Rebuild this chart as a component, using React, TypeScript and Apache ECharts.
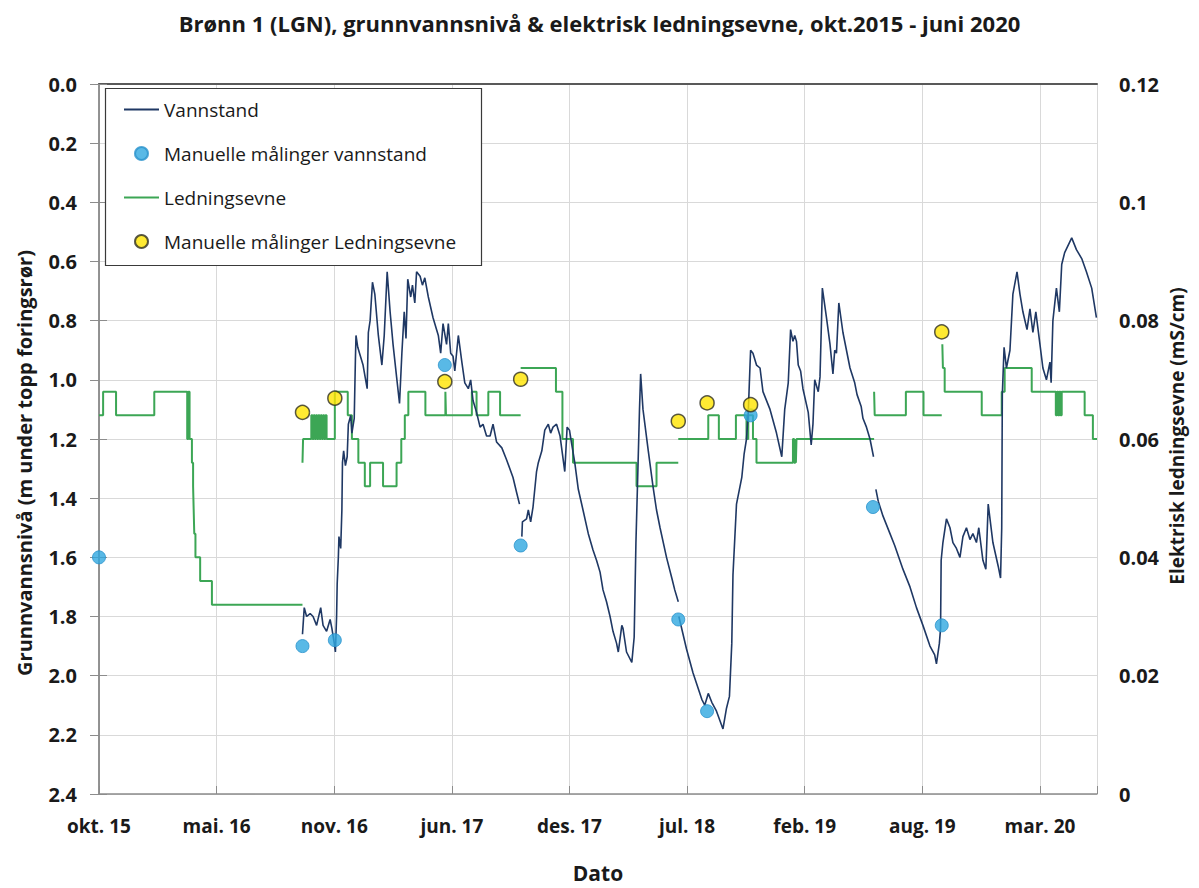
import React, { useEffect, useRef } from 'react';
import * as echarts from 'echarts';

// x values are days counted from the first tick (okt. 15); ticks every 200 days
const TICK_LABELS = ['okt. 15', 'mai. 16', 'nov. 16', 'jun. 17', 'des. 17', 'jul. 18', 'feb. 19', 'aug. 19', 'mar. 20'];
const X_MAX = 1697;

// Vannstand (m under topp foringsrør), continuous logger segments
const vannstandA: [number, number][] = [[346,1.86],[349,1.77],[353,1.80],[359,1.79],[364,1.80],[370,1.83],[377,1.77],[381,1.83],[387,1.85],[393,1.81],[396,1.84],[400,1.89],[402,1.92],[404,1.80],[405,1.69],[407,1.60],[408,1.53],[411,1.57],[413,1.44],[414,1.28],[416,1.24],[419,1.29],[422,1.26],[424,1.15],[428,1.12],[430,1.18],[434,1.13],[436,0.93],[437,0.85],[440,0.89],[443,0.91],[449,0.95],[456,1.03],[458,0.84],[461,0.80],[465,0.67],[469,0.71],[475,0.85],[481,0.95],[485,0.85],[490,0.635],[495,0.77],[500,0.88],[506,0.99],[511,1.08],[515,0.91],[519,0.77],[522,0.86],[525,0.66],[530,0.72],[533,0.68],[537,0.74],[540,0.635],[546,0.65],[550,0.68],[554,0.655],[560,0.72],[568,0.79],[577,0.85],[581,0.91],[585,0.81],[591,0.88],[594,0.81],[598,0.91],[602,0.92],[605,0.97],[611,0.85],[617,0.94],[622,1.01],[628,1.03],[632,1.00],[636,1.07],[642,1.11],[648,1.16],[653,1.15],[659,1.19],[665,1.19],[670,1.15],[676,1.21],[685,1.23],[693,1.27],[704,1.33],[710,1.38],[715,1.42]];
const vannstandB: [number, number][] = [[719,1.53],[720,1.48],[727,1.47],[730,1.44],[734,1.48],[738,1.43],[744,1.31],[747,1.28],[753,1.24],[758,1.17],[764,1.15],[768,1.18],[772,1.16],[778,1.15],[784,1.19],[788,1.25],[792,1.31],[796,1.16],[800,1.17],[804,1.22],[809,1.28],[815,1.37],[823,1.44],[832,1.52],[840,1.575],[846,1.61],[852,1.65],[857,1.71],[863,1.75],[869,1.80],[874,1.85],[880,1.89],[883,1.92],[889,1.83],[891,1.84],[897,1.92],[906,1.955],[910,1.87],[913,1.55],[916,1.33],[919,1.105],[921,0.98],[925,1.10],[934,1.24],[942,1.36],[948,1.44],[954,1.50],[965,1.60],[974,1.67],[979,1.71],[985,1.75]];
const vannstandC: [number, number][] = [[986,1.80],[999,1.91],[1010,1.99],[1025,2.08],[1030,2.10],[1036,2.06],[1042,2.09],[1050,2.12],[1061,2.18],[1067,2.11],[1072,2.07],[1076,1.89],[1078,1.66],[1084,1.42],[1093,1.33],[1097,1.25],[1101,1.20],[1104,1.11],[1107,0.95],[1108,0.90],[1112,0.91],[1118,0.95],[1124,0.96],[1129,1.04],[1141,1.10],[1152,1.18],[1161,1.26],[1166,1.10],[1172,1.01],[1176,0.83],[1180,0.87],[1183,0.85],[1186,0.87],[1189,0.95],[1193,0.97],[1197,1.03],[1206,1.11],[1211,1.22],[1214,1.15],[1217,1.00],[1223,1.04],[1226,0.99],[1230,0.69],[1237,0.79],[1243,0.88],[1248,0.98],[1251,0.90],[1254,0.91],[1258,0.74],[1265,0.84],[1277,0.96],[1285,1.01],[1289,1.05],[1296,1.09],[1299,1.13],[1305,1.16],[1311,1.20],[1317,1.26]];
const vannstandD: [number, number][] = [[1321,1.37],[1325,1.41],[1333,1.46],[1345,1.52],[1353,1.56],[1367,1.64],[1379,1.70],[1390,1.77],[1401,1.83],[1413,1.90],[1421,1.93],[1424,1.96],[1429,1.89],[1431,1.84],[1432,1.61],[1435,1.55],[1441,1.47],[1447,1.50],[1452,1.55],[1458,1.57],[1464,1.60],[1469,1.53],[1475,1.50],[1481,1.54],[1486,1.52],[1492,1.55],[1496,1.50],[1503,1.61],[1508,1.64],[1512,1.42],[1520,1.55],[1529,1.63],[1533,1.67],[1535,1.50],[1536,1.05],[1539,0.89],[1543,0.96],[1549,0.90],[1554,0.71],[1561,0.635],[1566,0.71],[1571,0.77],[1578,0.83],[1583,0.76],[1588,0.84],[1593,0.77],[1600,0.88],[1605,0.96],[1611,1.00],[1617,0.94],[1619,1.01],[1622,0.80],[1628,0.69],[1633,0.77],[1637,0.61],[1642,0.57],[1654,0.52],[1662,0.56],[1671,0.59],[1679,0.635],[1688,0.69],[1696,0.79]];

// Ledningsevne (mS/cm), step changes (value holds until next point)
const ledning1: [number, number][] = [[0,0.064],[7,0.068],[29,0.064],[94,0.068],[150,0.060],[152,0.068],[154,0.060],[158,0.056],[160,0.052],[161,0.048],[162,0.044],[164,0.040],[172,0.036],[192,0.032],[346,0.032]];
const ledning2: [number, number][] = [[346,0.056],[347,0.060],[361,0.064],[363,0.060],[365,0.064],[367,0.060],[369,0.064],[371,0.060],[373,0.064],[375,0.060],[377,0.064],[379,0.060],[381,0.064],[383,0.060],[385,0.064],[387,0.060],[401,0.068],[423,0.064],[430,0.060],[441,0.056],[452,0.052],[461,0.056],[483,0.052],[506,0.056],[514,0.060],[520,0.064],[526,0.068],[555,0.064],[589,0.068],[590,0.064],[634,0.068],[642,0.064],[662,0.068],[682,0.064],[717,0.064]];
const ledning3: [number, number][] = [[717,0.072],[777,0.068],[788,0.060],[806,0.056],[914,0.052],[948,0.056],[985,0.056]];
const ledning4: [number, number][] = [[985,0.060],[1036,0.064],[1054,0.060],[1083,0.064],[1101,0.060],[1104,0.064],[1112,0.060],[1118,0.056],[1180,0.060],[1182,0.056],[1184,0.060],[1185,0.056],[1186,0.060],[1316,0.060]];
const ledning5: [number, number][] = [[1318,0.068],[1319,0.064],[1372,0.068],[1402,0.064],[1433,0.064]];
const ledning6: [number, number][] = [[1434,0.076],[1435,0.072],[1438,0.068],[1501,0.064],[1535,0.068],[1540,0.072],[1586,0.068],[1627,0.064],[1629,0.068],[1631,0.064],[1633,0.068],[1635,0.064],[1637,0.068],[1676,0.064],[1690,0.060],[1697,0.060]];

// Manual measurements
const manuellVannstand: [number, number][] = [[0,1.60],[346,1.90],[401,1.88],[588,0.95],[717,1.56],[985,1.81],[1034,2.12],[1108,1.12],[1316,1.43],[1433,1.83]];
const manuellLedning: [number, number][] = [[346,0.0645],[401,0.0669],[588,0.0697],[717,0.0701],[985,0.0630],[1034,0.0661],[1108,0.0658],[1433,0.0781]];

const FONT = "'Open Sans', sans-serif";
const TEXT = '#1a1a1a';
const BLUE_LINE = '#1f3864';
const GREEN = '#3ca655';
const LINE_ICON = 'path://M0,0H35V1.8H0Z';

function joinSegments(segs: [number, number][][]): (number | null)[][] {
  const out: (number | null)[][] = [];
  segs.forEach((s, i) => {
    if (i > 0) out.push([s[0][0], null]);
    s.forEach((p) => out.push([p[0], p[1]]));
  });
  return out;
}

export default function App() {
  const ref = useRef<HTMLDivElement>(null);
  useEffect(() => {
    document.body.style.margin = '0';
    const chart = echarts.init(ref.current!, null, { renderer: 'svg' });
    const xLabel = (v: number) => (Math.abs(v % 200) < 1e-6 ? TICK_LABELS[Math.round(v / 200)] ?? '' : '');
    const option: any = {
      animation: false,
      backgroundColor: '#ffffff',
      textStyle: { fontFamily: FONT },
      title: {
        text: 'Brønn 1 (LGN), grunnvannsnivå & elektrisk ledningsevne, okt.2015 - juni 2020',
        left: 'center',
        top: 7,
        textStyle: { fontFamily: FONT, fontSize: 22, fontWeight: 'bold', color: TEXT },
      },
      grid: { left: 99, right: 102, top: 84, bottom: 91, containLabel: false },
      legend: {
        orient: 'vertical',
        left: 124,
        top: 99,
        padding: 0,
        itemWidth: 35,
        itemHeight: 13,
        itemGap: 23,
        selectedMode: false,
        textStyle: { fontFamily: FONT, fontSize: 19, color: TEXT, lineHeight: 21 },
        data: [
          { name: 'Vannstand', icon: LINE_ICON, itemStyle: { color: BLUE_LINE } },
          { name: 'Manuelle målinger vannstand', icon: 'circle' },
          { name: 'Ledningsevne', icon: LINE_ICON, itemStyle: { color: GREEN } },
          { name: 'Manuelle målinger Ledningsevne', icon: 'circle' },
        ],
      },
      graphic: [
        {
          type: 'rect',
          shape: { x: 105.5, y: 88.5, width: 376, height: 177 },
          style: { fill: '#ffffff', stroke: '#3a3a3a', lineWidth: 1.2 },
          z: 3,
        },
        {
          type: 'text',
          x: 24,
          y: 463,
          rotation: Math.PI / 2,
          style: {
            text: 'Grunnvannsnivå (m under topp foringsrør)',
            fontFamily: FONT, fontSize: 20, fontWeight: 'bold', fill: TEXT,
            textAlign: 'center', textVerticalAlign: 'middle',
          },
        },
        {
          type: 'text',
          x: 1177,
          y: 436,
          rotation: Math.PI / 2,
          style: {
            text: 'Elektrisk ledningsevne (mS/cm)',
            fontFamily: FONT, fontSize: 19, fontWeight: 'bold', fill: TEXT,
            textAlign: 'center', textVerticalAlign: 'middle',
          },
        },
      ],
      xAxis: [
        {
          type: 'value',
          min: 0,
          max: X_MAX,
          interval: 200,
          position: 'bottom',
          name: 'Dato',
          nameLocation: 'middle',
          nameGap: 68,
          nameTextStyle: { fontFamily: FONT, fontSize: 21, fontWeight: 'bold', color: TEXT },
          axisLine: { show: true, lineStyle: { color: '#595959', width: 2 } },
          axisTick: { show: false },
          axisLabel: { formatter: xLabel, margin: 22, fontFamily: FONT, fontSize: 19, fontWeight: 'bold', color: TEXT },
          splitLine: { show: true, lineStyle: { color: '#d9d9d9', width: 1 } },
        },
        {
          type: 'value',
          min: 0,
          max: X_MAX,
          interval: 200,
          position: 'top',
          axisLine: { show: true, lineStyle: { color: '#8c8c8c', width: 1.5 } },
          axisTick: { show: true, inside: false, length: 8, lineStyle: { color: '#8c8c8c' } },
          axisLabel: { show: false },
          splitLine: { show: false },
        },
      ],
      yAxis: [
        {
          type: 'value',
          inverse: true,
          min: 0,
          max: 2.4,
          interval: 0.2,
          position: 'left',
          axisLine: { show: true, lineStyle: { color: '#8c8c8c', width: 1.5 } },
          axisTick: { show: true, inside: false, length: 9, lineStyle: { color: '#8c8c8c' } },
          axisLabel: { formatter: (v: number) => v.toFixed(1), margin: 22, fontFamily: FONT, fontSize: 20, fontWeight: 'bold', color: TEXT },
          splitLine: { show: true, lineStyle: { color: '#d9d9d9', width: 1 } },
        },
        {
          type: 'value',
          min: 0,
          max: 0.12,
          interval: 0.02,
          position: 'right',
          axisLine: { show: true, lineStyle: { color: '#8c8c8c', width: 1.5 } },
          axisTick: { show: true, inside: false, length: 8, lineStyle: { color: '#8c8c8c' } },
          axisLabel: { formatter: (v: number) => String(+v.toFixed(2)), margin: 22, fontFamily: FONT, fontSize: 20, fontWeight: 'bold', color: TEXT },
          splitLine: { show: false },
        },
      ],
      series: [
        {
          name: 'Vannstand',
          type: 'line',
          xAxisIndex: 0,
          yAxisIndex: 0,
          data: joinSegments([vannstandA, vannstandB, vannstandC, vannstandD]),
          symbol: 'none',
          connectNulls: false,
          lineStyle: { color: BLUE_LINE, width: 1.6 },
          itemStyle: { color: BLUE_LINE },
          z: 3,
        },
        {
          name: 'Manuelle målinger vannstand',
          type: 'scatter',
          xAxisIndex: 0,
          yAxisIndex: 0,
          data: manuellVannstand,
          symbol: 'circle',
          symbolSize: 13,
          clip: false,
          itemStyle: { color: '#2fa8e0', borderColor: '#2a92cc', borderWidth: 1 },
          z: 5,
        },
        {
          name: 'Ledningsevne',
          type: 'line',
          xAxisIndex: 0,
          yAxisIndex: 1,
          step: 'end',
          data: joinSegments([ledning1, ledning2, ledning3, ledning4, ledning5, ledning6]),
          symbol: 'none',
          connectNulls: false,
          lineStyle: { color: GREEN, width: 2 },
          itemStyle: { color: GREEN },
          z: 2,
        },
        {
          name: 'Manuelle målinger Ledningsevne',
          type: 'scatter',
          xAxisIndex: 0,
          yAxisIndex: 1,
          data: manuellLedning,
          symbol: 'circle',
          symbolSize: 14,
          clip: false,
          itemStyle: { color: '#ffe500', borderColor: '#2e2e22', borderWidth: 1.5 },
          z: 6,
        },
      ],
    };
    chart.setOption(option);
    return () => chart.dispose();
  }, []);
  return <div ref={ref} style={{ width: 1199, height: 888 }} />;
}
